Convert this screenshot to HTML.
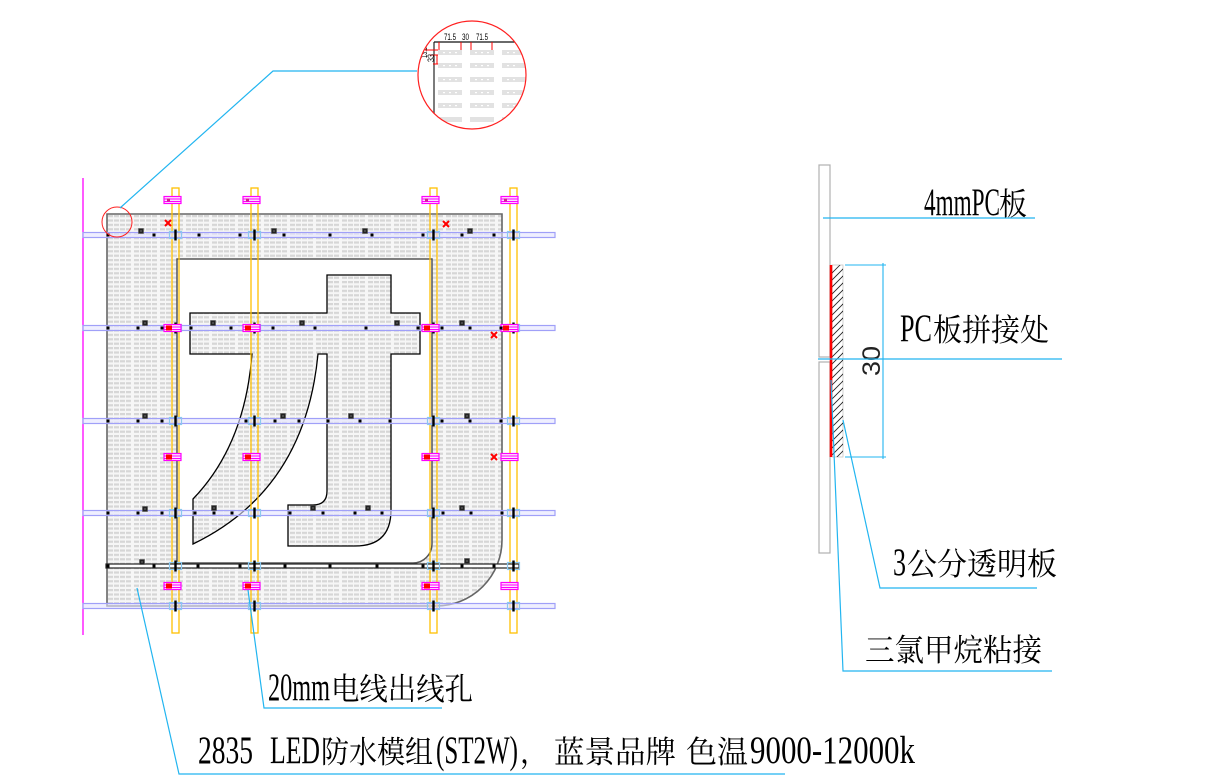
<!DOCTYPE html>
<html><head><meta charset="utf-8"><style>
html,body{margin:0;padding:0;background:#fff;}
svg{display:block;}
.lat{font-family:"Liberation Serif","Noto Serif CJK SC",serif;font-size:39px;fill:#000;}
.cjk{font-family:"Liberation Serif","Noto Serif CJK SC","Noto Sans CJK SC",serif;font-size:31px;fill:#000;}
</style></head><body>
<svg width="1226" height="778" viewBox="0 0 1226 778" xmlns="http://www.w3.org/2000/svg">
<defs>
<pattern id="led" width="26" height="4.4" patternUnits="userSpaceOnUse" patternTransform="translate(107,214)">
<rect width="26" height="4.4" fill="#f6f6f6"/>
<rect x="1" y="1" width="5" height="2.2" fill="#d6d6d6"/>
<rect x="7" y="1" width="5" height="2.2" fill="#d6d6d6"/>
<rect x="13" y="1" width="5" height="2.2" fill="#d6d6d6"/>
<rect x="19" y="1" width="5" height="2.2" fill="#d6d6d6"/>
</pattern>
<clipPath id="circ"><circle cx="472" cy="75" r="54"/></clipPath>
<clipPath id="hatch"><rect x="832" y="265" width="11" height="192"/></clipPath>
</defs>
<rect width="1226" height="778" fill="#fff"/>

<!-- magenta vertical line -->
<line x1="83" y1="178" x2="83" y2="635" stroke="#ff00ff" stroke-width="1.3"/>

<!-- panel -->
<path d="M107,214 H502 V540 A66,66 0 0 1 436,606 H107 Z" fill="url(#led)" stroke="#666" stroke-width="1.6"/>
<!-- inner cutout -->
<path d="M177,259 H432 V544 A19,19 0 0 1 413,563 H177 Z" fill="#fff" stroke="#555" stroke-width="1.5"/>
<!-- glyph -->
<path d="M327,275 H391 V313 H420 V354 H391 V510 Q391,546 355,546 H288 V505 H313 Q327,505 327,491 V354 H318 Q305,490 193,544 V499 Q245,445 252,354 H190 V313 H327 Z" fill="url(#led)" stroke="#000" stroke-width="1.3"/>

<!-- orange vertical rails -->
<g fill="none" stroke="#ffc000" stroke-width="1.3">
<rect x="172" y="188" width="7" height="445"/>
<rect x="251" y="188" width="7" height="445"/>
<rect x="430" y="188" width="7" height="445"/>
<rect x="510" y="188" width="7" height="445"/>
</g>

<!-- blue horizontal rails -->
<g fill="#e4e4ff" fill-opacity="0.6" stroke="#a0a0f8" stroke-width="1.2">
<rect x="83" y="232.5" width="472" height="5"/>
<rect x="83" y="325.5" width="472" height="5"/>
<rect x="83" y="418.5" width="472" height="5"/>
<rect x="83" y="510.5" width="472" height="5"/>
<rect x="83" y="603.5" width="472" height="5"/>
</g>
<!-- black rail -->
<rect x="106" y="564" width="413" height="4" fill="#fff" stroke="#222" stroke-width="1.2"/>

<!-- crossings -->
<g fill="none" stroke="#8cc8ee" stroke-width="1.2">
<rect x="169.5" y="231.5" width="12" height="7"/><rect x="248.5" y="231.5" width="12" height="7"/><rect x="427.5" y="231.5" width="12" height="7"/><rect x="507.5" y="231.5" width="12" height="7"/>
<rect x="169.5" y="324.5" width="12" height="7"/><rect x="248.5" y="324.5" width="12" height="7"/><rect x="427.5" y="324.5" width="12" height="7"/><rect x="507.5" y="324.5" width="12" height="7"/>
<rect x="169.5" y="417.5" width="12" height="7"/><rect x="248.5" y="417.5" width="12" height="7"/><rect x="427.5" y="417.5" width="12" height="7"/><rect x="507.5" y="417.5" width="12" height="7"/>
<rect x="169.5" y="509.5" width="12" height="7"/><rect x="248.5" y="509.5" width="12" height="7"/><rect x="427.5" y="509.5" width="12" height="7"/><rect x="507.5" y="509.5" width="12" height="7"/>
<rect x="169.5" y="562.5" width="12" height="7"/><rect x="248.5" y="562.5" width="12" height="7"/><rect x="427.5" y="562.5" width="12" height="7"/><rect x="507.5" y="562.5" width="12" height="7"/>
<rect x="169.5" y="602.5" width="12" height="7"/><rect x="248.5" y="602.5" width="12" height="7"/><rect x="427.5" y="602.5" width="12" height="7"/><rect x="507.5" y="602.5" width="12" height="7"/>
</g>
<g fill="#000">
<rect x="174.3" y="229.5" width="2.4" height="11"/><rect x="253.3" y="229.5" width="2.4" height="11"/><rect x="432.3" y="229.5" width="2.4" height="11"/><rect x="512.3" y="229.5" width="2.4" height="11"/>
<rect x="174.3" y="322.5" width="2.4" height="11"/><rect x="253.3" y="322.5" width="2.4" height="11"/><rect x="432.3" y="322.5" width="2.4" height="11"/><rect x="512.3" y="322.5" width="2.4" height="11"/>
<rect x="174.3" y="415.5" width="2.4" height="11"/><rect x="253.3" y="415.5" width="2.4" height="11"/><rect x="432.3" y="415.5" width="2.4" height="11"/><rect x="512.3" y="415.5" width="2.4" height="11"/>
<rect x="174.3" y="507.5" width="2.4" height="11"/><rect x="253.3" y="507.5" width="2.4" height="11"/><rect x="432.3" y="507.5" width="2.4" height="11"/><rect x="512.3" y="507.5" width="2.4" height="11"/>
<rect x="174.3" y="560.5" width="2.4" height="11"/><rect x="253.3" y="560.5" width="2.4" height="11"/><rect x="432.3" y="560.5" width="2.4" height="11"/><rect x="512.3" y="560.5" width="2.4" height="11"/>
<rect x="174.3" y="600.5" width="2.4" height="11"/><rect x="253.3" y="600.5" width="2.4" height="11"/><rect x="432.3" y="600.5" width="2.4" height="11"/><rect x="512.3" y="600.5" width="2.4" height="11"/>
</g>

<!-- pink clips -->
<g fill="#ffe0ff" stroke="#ff00ff" stroke-width="1.2">
<rect x="164" y="196.5" width="17" height="7"/><rect x="243" y="196.5" width="17" height="7"/><rect x="422" y="196.5" width="17" height="7"/><rect x="501" y="196.5" width="17" height="7"/>
<rect x="164" y="324.5" width="17" height="7"/><rect x="243" y="324.5" width="17" height="7"/><rect x="422" y="324.5" width="17" height="7"/><rect x="501" y="324.5" width="17" height="7"/>
<rect x="164" y="453.5" width="17" height="7"/><rect x="243" y="453.5" width="17" height="7"/><rect x="422" y="453.5" width="17" height="7"/><rect x="501" y="453.5" width="17" height="7"/>
<rect x="164" y="582.5" width="17" height="7"/><rect x="243" y="582.5" width="17" height="7"/><rect x="422" y="582.5" width="17" height="7"/><rect x="501" y="582.5" width="17" height="7"/>
</g>
<g stroke="#ff00ff" stroke-width="0.9">
<path d="M164,199 h17 M164,201.5 h17 M243,199 h17 M243,201.5 h17 M422,199 h17 M422,201.5 h17 M501,199 h17 M501,201.5 h17"/>
<path d="M164,327 h17 M164,329.5 h17 M243,327 h17 M243,329.5 h17 M422,327 h17 M422,329.5 h17 M501,327 h17 M501,329.5 h17"/>
<path d="M164,456 h17 M164,458.5 h17 M243,456 h17 M243,458.5 h17 M422,456 h17 M422,458.5 h17 M501,456 h17 M501,458.5 h17"/>
<path d="M164,585 h17 M164,587.5 h17 M243,585 h17 M243,587.5 h17 M422,585 h17 M422,587.5 h17 M501,585 h17 M501,587.5 h17"/>
</g>
<g fill="#ff0000">
<rect x="166" y="325.5" width="6" height="5"/><rect x="245" y="325.5" width="6" height="5"/><rect x="424" y="325.5" width="6" height="5"/><rect x="503" y="325.5" width="6" height="5"/>
<rect x="166" y="454.5" width="6" height="5"/><rect x="245" y="454.5" width="6" height="5"/><rect x="424" y="454.5" width="6" height="5"/>
<rect x="166" y="583.5" width="6" height="5"/><rect x="245" y="583.5" width="6" height="5"/><rect x="424" y="583.5" width="6" height="5"/>
<rect x="167" y="198.5" width="3" height="3" fill="#d0208a"/><rect x="246" y="198.5" width="3" height="3" fill="#d0208a"/><rect x="425" y="198.5" width="3" height="3" fill="#d0208a"/><rect x="504" y="198.5" width="3" height="3" fill="#d0208a"/>
</g>

<!-- dots -->
<g fill="#000">
<rect x="106.5" y="233.5" width="3" height="3"/><rect x="152.5" y="233.5" width="3" height="3"/><rect x="197.5" y="233.5" width="3" height="3"/><rect x="238.5" y="233.5" width="3" height="3"/><rect x="282.5" y="233.5" width="3" height="3"/><rect x="328.5" y="233.5" width="3" height="3"/><rect x="370.5" y="233.5" width="3" height="3"/><rect x="421.5" y="233.5" width="3" height="3"/><rect x="460.5" y="233.5" width="3" height="3"/><rect x="492.5" y="233.5" width="3" height="3"/>
<rect x="106.5" y="326.5" width="3" height="3"/><rect x="136.5" y="326.5" width="3" height="3"/><rect x="160.5" y="326.5" width="3" height="3"/><rect x="189.5" y="326.5" width="3" height="3"/><rect x="229.5" y="326.5" width="3" height="3"/><rect x="271.5" y="326.5" width="3" height="3"/><rect x="313.5" y="326.5" width="3" height="3"/><rect x="364.5" y="326.5" width="3" height="3"/><rect x="416.5" y="326.5" width="3" height="3"/><rect x="440.5" y="326.5" width="3" height="3"/><rect x="468.5" y="326.5" width="3" height="3"/><rect x="499.5" y="326.5" width="3" height="3"/>
<rect x="106.5" y="419.5" width="3" height="3"/><rect x="136.5" y="419.5" width="3" height="3"/><rect x="160.5" y="419.5" width="3" height="3"/><rect x="244.5" y="419.5" width="3" height="3"/><rect x="273.5" y="419.5" width="3" height="3"/><rect x="297.5" y="419.5" width="3" height="3"/><rect x="326.5" y="419.5" width="3" height="3"/><rect x="358.5" y="419.5" width="3" height="3"/><rect x="388.5" y="419.5" width="3" height="3"/><rect x="440.5" y="419.5" width="3" height="3"/><rect x="468.5" y="419.5" width="3" height="3"/><rect x="499.5" y="419.5" width="3" height="3"/>
<rect x="106.5" y="511.5" width="3" height="3"/><rect x="136.5" y="511.5" width="3" height="3"/><rect x="160.5" y="511.5" width="3" height="3"/><rect x="193.5" y="511.5" width="3" height="3"/><rect x="212.5" y="511.5" width="3" height="3"/><rect x="230.5" y="511.5" width="3" height="3"/><rect x="288.5" y="511.5" width="3" height="3"/><rect x="321.5" y="511.5" width="3" height="3"/><rect x="353.5" y="511.5" width="3" height="3"/><rect x="380.5" y="511.5" width="3" height="3"/><rect x="441.5" y="511.5" width="3" height="3"/><rect x="469.5" y="511.5" width="3" height="3"/><rect x="500.5" y="511.5" width="3" height="3"/>
<rect x="106.5" y="564.5" width="3" height="3"/><rect x="152.5" y="564.5" width="3" height="3"/><rect x="196.5" y="564.5" width="3" height="3"/><rect x="238.5" y="564.5" width="3" height="3"/><rect x="283.5" y="564.5" width="3" height="3"/><rect x="328.5" y="564.5" width="3" height="3"/><rect x="375.5" y="564.5" width="3" height="3"/><rect x="421.5" y="564.5" width="3" height="3"/><rect x="460.5" y="564.5" width="3" height="3"/><rect x="492.5" y="564.5" width="3" height="3"/>
</g>
<!-- module squares -->
<g fill="#222" stroke="#555" stroke-width="0.6">
<rect x="138.5" y="228.5" width="5" height="5"/><rect x="271.5" y="228.5" width="5" height="5"/><rect x="362.5" y="228.5" width="5" height="5"/><rect x="467.5" y="228.5" width="5" height="5"/>
<rect x="142.5" y="320.5" width="5" height="5"/><rect x="210.5" y="320.5" width="5" height="5"/><rect x="299.5" y="320.5" width="5" height="5"/><rect x="394.5" y="320.5" width="5" height="5"/><rect x="459.5" y="320.5" width="5" height="5"/>
<rect x="142.5" y="413.5" width="5" height="5"/><rect x="280.5" y="413.5" width="5" height="5"/><rect x="348.5" y="413.5" width="5" height="5"/><rect x="464.5" y="413.5" width="5" height="5"/>
<rect x="142.5" y="506.5" width="5" height="5"/><rect x="211.5" y="505.5" width="5" height="5"/><rect x="310.5" y="505.5" width="5" height="5"/><rect x="365.5" y="505.5" width="5" height="5"/><rect x="459.5" y="505.5" width="5" height="5"/>
<rect x="139.5" y="559.5" width="5" height="5"/><rect x="464.5" y="558.5" width="5" height="5"/>
</g>
<g fill="#bbb">
<rect x="140.5" y="230.5" width="1" height="1"/><rect x="273.5" y="230.5" width="1" height="1"/><rect x="364.5" y="230.5" width="1" height="1"/><rect x="469.5" y="230.5" width="1" height="1"/>
<rect x="144.5" y="322.5" width="1" height="1"/><rect x="212.5" y="322.5" width="1" height="1"/><rect x="301.5" y="322.5" width="1" height="1"/><rect x="396.5" y="322.5" width="1" height="1"/><rect x="461.5" y="322.5" width="1" height="1"/>
<rect x="144.5" y="415.5" width="1" height="1"/><rect x="282.5" y="415.5" width="1" height="1"/><rect x="350.5" y="415.5" width="1" height="1"/><rect x="466.5" y="415.5" width="1" height="1"/>
<rect x="144.5" y="508.5" width="1" height="1"/><rect x="213.5" y="507.5" width="1" height="1"/><rect x="312.5" y="507.5" width="1" height="1"/><rect x="367.5" y="507.5" width="1" height="1"/><rect x="461.5" y="507.5" width="1" height="1"/>
<rect x="141.5" y="561.5" width="1" height="1"/><rect x="466.5" y="560.5" width="1" height="1"/>
</g>

<!-- red x marks -->
<g stroke="#ff0000" stroke-width="2">
<path d="M165,220 l6,6 M171,220 l-6,6"/>
<path d="M443,221 l6,6 M449,221 l-6,6"/>
<path d="M491,332 l6,6 M497,332 l-6,6"/>
<path d="M491,454 l6,6 M497,454 l-6,6"/>
</g>

<!-- small red circle and leader to detail -->
<circle cx="117" cy="222" r="15" fill="none" stroke="#ff2020" stroke-width="1"/>
<polyline points="120,208 273,71 417,71" fill="none" stroke="#22b5f0" stroke-width="1.2"/>

<!-- detail circle -->
<g clip-path="url(#circ)">
<g fill="#e2e2e2">
<rect x="438" y="50" width="24" height="5"/><rect x="470" y="50" width="24" height="5"/><rect x="502" y="50" width="24" height="5"/>
<rect x="438" y="63" width="24" height="5"/><rect x="470" y="63" width="24" height="5"/><rect x="502" y="63" width="24" height="5"/>
<rect x="438" y="77" width="24" height="5"/><rect x="470" y="77" width="24" height="5"/><rect x="502" y="77" width="24" height="5"/>
<rect x="438" y="90" width="24" height="5"/><rect x="470" y="90" width="24" height="5"/><rect x="502" y="90" width="24" height="5"/>
<rect x="438" y="103" width="24" height="5"/><rect x="470" y="103" width="24" height="5"/><rect x="502" y="103" width="24" height="5"/>
<rect x="438" y="117" width="24" height="5"/><rect x="470" y="117" width="24" height="5"/><rect x="502" y="117" width="24" height="5"/>
</g>
<g fill="#fff">
<rect x="443" y="52" width="2" height="1.2"/><rect x="449" y="52" width="2" height="1.2"/><rect x="455" y="52" width="2" height="1.2"/><rect x="475" y="52" width="2" height="1.2"/><rect x="481" y="52" width="2" height="1.2"/><rect x="487" y="52" width="2" height="1.2"/><rect x="507" y="52" width="2" height="1.2"/><rect x="513" y="52" width="2" height="1.2"/>
<rect x="443" y="65" width="2" height="1.2"/><rect x="449" y="65" width="2" height="1.2"/><rect x="455" y="65" width="2" height="1.2"/><rect x="475" y="65" width="2" height="1.2"/><rect x="481" y="65" width="2" height="1.2"/><rect x="487" y="65" width="2" height="1.2"/><rect x="507" y="65" width="2" height="1.2"/><rect x="513" y="65" width="2" height="1.2"/>
<rect x="443" y="79" width="2" height="1.2"/><rect x="449" y="79" width="2" height="1.2"/><rect x="455" y="79" width="2" height="1.2"/><rect x="475" y="79" width="2" height="1.2"/><rect x="481" y="79" width="2" height="1.2"/><rect x="487" y="79" width="2" height="1.2"/><rect x="507" y="79" width="2" height="1.2"/><rect x="513" y="79" width="2" height="1.2"/>
<rect x="443" y="92" width="2" height="1.2"/><rect x="449" y="92" width="2" height="1.2"/><rect x="455" y="92" width="2" height="1.2"/><rect x="475" y="92" width="2" height="1.2"/><rect x="481" y="92" width="2" height="1.2"/><rect x="487" y="92" width="2" height="1.2"/><rect x="507" y="92" width="2" height="1.2"/><rect x="513" y="92" width="2" height="1.2"/>
<rect x="443" y="105" width="2" height="1.2"/><rect x="449" y="105" width="2" height="1.2"/><rect x="455" y="105" width="2" height="1.2"/><rect x="475" y="105" width="2" height="1.2"/><rect x="481" y="105" width="2" height="1.2"/><rect x="487" y="105" width="2" height="1.2"/><rect x="507" y="105" width="2" height="1.2"/><rect x="513" y="105" width="2" height="1.2"/>
</g>
<line x1="434" y1="42" x2="434" y2="130" stroke="#444" stroke-width="1.4"/>
<line x1="434" y1="42" x2="530" y2="42" stroke="#111" stroke-width="1.2"/>
<g stroke="#ff0000" stroke-width="1">
<line x1="439" y1="42" x2="439" y2="50"/><line x1="461" y1="42" x2="461" y2="50"/><line x1="471" y1="42" x2="471" y2="50"/><line x1="492" y1="42" x2="492" y2="50"/>
<line x1="425" y1="50" x2="438" y2="50"/><line x1="430" y1="55" x2="438" y2="55"/><line x1="437" y1="55" x2="437" y2="64"/><line x1="433" y1="64" x2="438" y2="64"/>
</g>
<g font-family="Liberation Sans, sans-serif" font-size="9" fill="#000">
<text x="444" y="40" textLength="12" lengthAdjust="spacingAndGlyphs">71.5</text>
<text x="462" y="40" textLength="7" lengthAdjust="spacingAndGlyphs">30</text>
<text x="476" y="40" textLength="12" lengthAdjust="spacingAndGlyphs">71.5</text>
<text transform="translate(427,58) rotate(-90)" textLength="11" lengthAdjust="spacingAndGlyphs">13.5</text>
<text transform="translate(434,62) rotate(-90)" textLength="8" lengthAdjust="spacingAndGlyphs">33</text>
</g>
</g>
<circle cx="472" cy="75" r="54" fill="none" stroke="#ff2020" stroke-width="1.2"/>

<!-- bottom leaders -->
<polyline points="137,588 179,774 785,774" fill="none" stroke="#22b5f0" stroke-width="1.2"/>
<polyline points="248,590 264,708 442,708" fill="none" stroke="#22b5f0" stroke-width="1.2"/>

<!-- bottom texts -->
<text class="lat" x="268" y="700" textLength="62" lengthAdjust="spacingAndGlyphs">20mm</text>
<text class="cjk" x="331" y="700" textLength="142" lengthAdjust="spacingAndGlyphs">电线出线孔</text>

<text class="lat" x="198" y="763" textLength="55" lengthAdjust="spacingAndGlyphs">2835</text>
<text class="lat" x="270" y="763" textLength="50" lengthAdjust="spacingAndGlyphs">LED</text>
<text class="cjk" x="321" y="763" textLength="112" lengthAdjust="spacingAndGlyphs">防水模组</text>
<text class="lat" x="436" y="763" textLength="82" lengthAdjust="spacingAndGlyphs">(ST2W)</text>
<text class="cjk" x="520" y="763" textLength="28" lengthAdjust="spacingAndGlyphs">，</text>
<text class="cjk" x="554" y="763" textLength="122" lengthAdjust="spacingAndGlyphs">蓝景品牌</text>
<text class="cjk" x="686" y="763" textLength="62" lengthAdjust="spacingAndGlyphs">色温</text>
<text class="lat" x="750" y="763" textLength="165" lengthAdjust="spacingAndGlyphs">9000-12000k</text>

<!-- right section diagram -->
<rect x="819" y="165" width="11" height="192" fill="#fff" stroke="#b0b0b0" stroke-width="1.2"/>
<rect x="819" y="362" width="11" height="191" fill="#fff" stroke="#b0b0b0" stroke-width="1.2"/>
<rect x="832" y="265" width="11" height="192" fill="#fff" stroke="#c8c8c8" stroke-width="0.8"/>
<g clip-path="url(#hatch)" stroke="#222" stroke-width="0.8">
<line x1="830" y1="275" x2="846" y2="259"/><line x1="830" y1="282" x2="846" y2="266"/><line x1="830" y1="289" x2="846" y2="273"/><line x1="830" y1="296" x2="846" y2="280"/><line x1="830" y1="303" x2="846" y2="287"/><line x1="830" y1="310" x2="846" y2="294"/><line x1="830" y1="317" x2="846" y2="301"/><line x1="830" y1="324" x2="846" y2="308"/><line x1="830" y1="331" x2="846" y2="315"/><line x1="830" y1="338" x2="846" y2="322"/><line x1="830" y1="345" x2="846" y2="329"/><line x1="830" y1="352" x2="846" y2="336"/><line x1="830" y1="359" x2="846" y2="343"/><line x1="830" y1="366" x2="846" y2="350"/><line x1="830" y1="373" x2="846" y2="357"/><line x1="830" y1="380" x2="846" y2="364"/><line x1="830" y1="387" x2="846" y2="371"/><line x1="830" y1="394" x2="846" y2="378"/><line x1="830" y1="401" x2="846" y2="385"/><line x1="830" y1="408" x2="846" y2="392"/><line x1="830" y1="415" x2="846" y2="399"/><line x1="830" y1="422" x2="846" y2="406"/><line x1="830" y1="429" x2="846" y2="413"/><line x1="830" y1="436" x2="846" y2="420"/><line x1="830" y1="443" x2="846" y2="427"/><line x1="830" y1="450" x2="846" y2="434"/><line x1="830" y1="457" x2="846" y2="441"/><line x1="830" y1="464" x2="846" y2="448"/><line x1="830" y1="471" x2="846" y2="455"/>
</g>
<line x1="831" y1="265" x2="831" y2="457" stroke="#ff0000" stroke-width="2.6"/>

<!-- dimension -->
<g stroke="#22b5f0" stroke-width="1.1">
<line x1="845" y1="265" x2="886" y2="265"/>
<line x1="845" y1="457" x2="886" y2="457"/>
<line x1="883" y1="263" x2="883" y2="459"/>
</g>
<text transform="translate(880,361) rotate(-90)" text-anchor="middle" font-family="Liberation Sans, sans-serif" font-size="25" fill="#222" textLength="30" lengthAdjust="spacingAndGlyphs">30</text>

<!-- right leaders -->
<g fill="none" stroke="#22b5f0" stroke-width="1.2">
<line x1="823" y1="218" x2="1035" y2="218"/>
<line x1="818" y1="359" x2="1062" y2="359"/>
<polyline points="843,420 880,588 1037,588"/>
<polyline points="831,380 843,671 1052,671"/>
</g>

<!-- right texts -->
<text class="lat" x="924" y="215" textLength="76" lengthAdjust="spacingAndGlyphs">4mmPC</text>
<text class="cjk" x="999" y="215" textLength="28" lengthAdjust="spacingAndGlyphs">板</text>
<text class="lat" x="900" y="341" textLength="32" lengthAdjust="spacingAndGlyphs">PC</text>
<text class="cjk" x="933" y="341" textLength="116" lengthAdjust="spacingAndGlyphs">板拼接处</text>
<text class="lat" x="893" y="575" textLength="13" lengthAdjust="spacingAndGlyphs">3</text>
<text class="cjk" x="907" y="575" textLength="150" lengthAdjust="spacingAndGlyphs">公分透明板</text>
<text class="cjk" x="865" y="661" textLength="177" lengthAdjust="spacingAndGlyphs">三氯甲烷粘接</text>
</svg>
</body></html>
